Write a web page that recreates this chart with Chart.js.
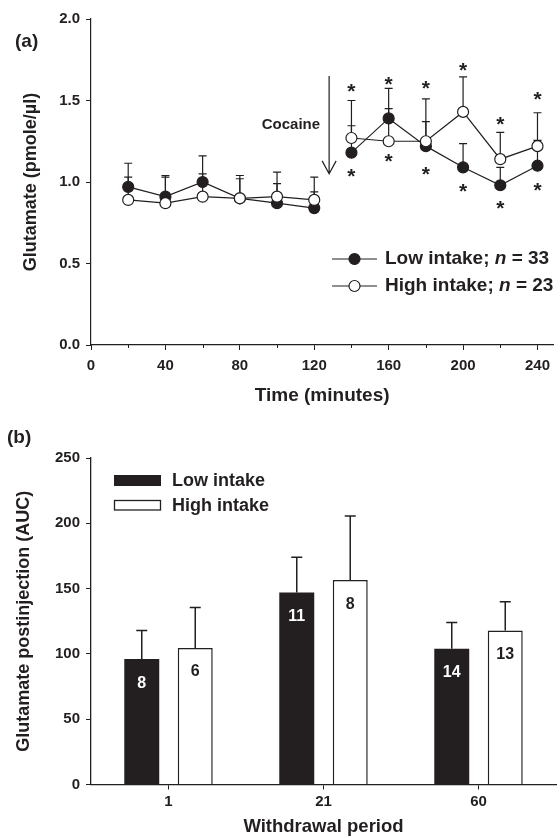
<!DOCTYPE html>
<html>
<head>
<meta charset="utf-8">
<script src="https://cdn.jsdelivr.net/npm/chart.js@4.4.1/dist/chart.umd.min.js"></script>
<style>
  html, body { margin: 0; padding: 0; background: #fff; }
  #wrap { position: relative; width: 560px; height: 838px; }
  canvas { position: absolute; left: 0; }
  #timeChart { top: 0; }
  #aucChart { top: 420px; }
</style>
</head>
<body>
<div id="wrap">
  <canvas id="timeChart" width="560" height="420"></canvas>
  <canvas id="aucChart" width="560" height="418"></canvas>
</div>
<script>
// (a) glutamate over time, cocaine given at ~128 min
const times = [20, 40, 60, 80, 100, 120, 140, 160, 180, 200, 220, 240];
const lowMean = [0.97, 0.91, 1.00, 0.90, 0.87, 0.84, 1.18, 1.39, 1.22, 1.09, 0.98, 1.10];
const lowSem = [0.145, 0.13, 0.16, 0.14, 0.12, 0.10, 0.165, 0.185, 0.15, 0.145, 0.11, 0.155];
const highMean = [0.89, 0.87, 0.91, 0.90, 0.91, 0.89, 1.27, 1.25, 1.25, 1.43, 1.14, 1.22];
const highSem = [0.14, 0.16, 0.14, 0.12, 0.15, 0.14, 0.23, 0.20, 0.26, 0.215, 0.165, 0.205];
const timeTicks = [0, 20, 40, 60, 80, 100, 120, 140, 160, 180, 200, 220, 240];
const glutTicks = [0, 0.5, 1.0, 1.5, 2.0];
// significance stars (value level where each star sits)
const starTimes = [140, 160, 180, 200, 220, 240];
const starHigh = [1.59, 1.63, 1.61, 1.72, 1.385, 1.54];
const starLow = [1.07, 1.16, 1.08, 0.975, 0.87, 0.98];
const cocaineTime = 128;
const cocaineFrom = 1.65;
const cocaineTo = 1.05;

// (b) AUC after injection by withdrawal period
const periods = ['1', '21', '60'];
const lowAuc = [96, 147, 104];
const lowAucSem = [22, 27, 20];
const highAuc = [104.5, 156.5, 118];
const highAucSem = [31, 49, 22];
const lowN = [8, 11, 14];
const highN = [6, 8, 13];
const aucTicks = [0, 50, 100, 150, 200, 250];

const ink = '#231f20';
const family = "'Liberation Sans', Arial, sans-serif";
const bold = size => ({ family: family, size: size, weight: 'bold' });

function setTicks(values) {
    return scale => { scale.ticks = values.map(v => ({ value: v })); };
}

//error bars + stars + arrow for panel (a)
const timeExtras = {
    id: 'timeExtras',
    beforeDatasetsDraw(chart) {
        const { ctx, scales: { x, y } } = chart;
        ctx.save();
        ctx.strokeStyle = ink;
        ctx.lineWidth = 1.2;
        chart.data.datasets.forEach(ds => {
            ds.data.forEach((p, i) => {
                const px = x.getPixelForValue(p.x);
                const py = y.getPixelForValue(p.y);
                const top = y.getPixelForValue(p.y + ds.sem[i]);
                ctx.beginPath();
                ctx.moveTo(px, py);
                ctx.lineTo(px, top);
                ctx.moveTo(px - 4, top);
                ctx.lineTo(px + 4, top);
                ctx.stroke();
            });
        });
        ctx.restore();
    },
    afterDraw(chart) {
        const { ctx, scales: { x, y } } = chart;
        ctx.save();
        ctx.fillStyle = ink;
        ctx.strokeStyle = ink;

        // minor ticks on time axis
        ctx.lineWidth = 1;
        timeTicks.filter(v => v % 40 !== 0).forEach(v => {
            const px = Math.round(x.getPixelForValue(v)) + 0.5;
            ctx.beginPath();
            ctx.moveTo(px, y.bottom);
            ctx.lineTo(px, y.bottom + 3);
            ctx.stroke();
        });

        ctx.font = 'bold 21px ' + family;
        ctx.textAlign = 'center';
        ctx.textBaseline = 'alphabetic';
        starTimes.forEach((t, i) => {
            const px = x.getPixelForValue(t);
            ctx.fillText('*', px, y.getPixelForValue(starHigh[i]) + 12);
            ctx.fillText('*', px, y.getPixelForValue(starLow[i]) + 12);
        });

        // cocaine arrow
        const ax = x.getPixelForValue(cocaineTime);
        const a0 = y.getPixelForValue(cocaineFrom);
        const a1 = y.getPixelForValue(cocaineTo);
        ctx.lineWidth = 1.2;
        ctx.beginPath();
        ctx.moveTo(ax, a0);
        ctx.lineTo(ax, a1);
        ctx.moveTo(ax - 7, a1 - 13);
        ctx.lineTo(ax, a1);
        ctx.lineTo(ax + 7, a1 - 13);
        ctx.stroke();
        ctx.font = 'bold 15px ' + family;
        ctx.textAlign = 'right';
        ctx.textBaseline = 'middle';
        ctx.fillText('Cocaine', ax - 9, (a0 + a1) / 2);

        // legend
        const rows = [[259, chart.data.datasets[0], 'Low intake; ', '33'], [286, chart.data.datasets[1], 'High intake; ', '23']];
        rows.forEach(([ry, ds, txt, n]) => {
            ctx.lineWidth = 1.2;
            ctx.beginPath();
            ctx.moveTo(332, ry);
            ctx.lineTo(377, ry);
            ctx.stroke();
            ctx.beginPath();
            ctx.arc(354.5, ry, 5.5, 0, Math.PI * 2);
            ctx.fillStyle = ds.backgroundColor;
            ctx.fill();
            ctx.stroke();
            ctx.fillStyle = ink;
            ctx.textAlign = 'left';
            ctx.font = 'bold 19px ' + family;
            let tx = 385;
            ctx.fillText(txt, tx, ry);
            tx += ctx.measureText(txt).width;
            ctx.font = 'italic bold 19px ' + family;
            ctx.fillText('n', tx, ry);
            tx += ctx.measureText('n').width;
            ctx.font = 'bold 19px ' + family;
            ctx.fillText(' = ' + n, tx, ry);
        });

        ctx.font = 'bold 19px ' + family;
        ctx.fillText('(a)', 15, 42);
        ctx.restore();
    }
};

const noGap = ctx => ctx.p0DataIndex === 5 ? 'rgba(0,0,0,0)' : ink;

new Chart(document.getElementById('timeChart'), {
    type: 'line',
    data: {
        datasets: [{
            label: 'Low intake',
            data: times.map((t, i) => ({ x: t, y: lowMean[i] })),
            sem: lowSem,
            borderColor: ink,
            backgroundColor: ink,
            borderWidth: 1.2,
            pointRadius: 5.5,
            pointBorderWidth: 1.2,
            segment: { borderColor: noGap },
            order: 2
        }, {
            label: 'High intake',
            data: times.map((t, i) => ({ x: t, y: highMean[i] })),
            sem: highSem,
            borderColor: ink,
            backgroundColor: '#fff',
            borderWidth: 1.2,
            pointRadius: 5.5,
            pointBorderWidth: 1.2,
            segment: { borderColor: noGap },
            order: 1
        }]
    },
    options: {
        responsive: false,
        animation: false,
        layout: { padding: { top: 19, right: 3, left: 0, bottom: 0 } },
        plugins: { legend: { display: false }, tooltip: { enabled: false } },
        scales: {
            x: {
                type: 'linear',
                min: 0,
                max: 248.5,
                afterFit: s => { s.height = 75; },
                afterBuildTicks: setTicks(timeTicks),
                grid: {
                    drawOnChartArea: false,
                    tickLength: 5,
                    color: ink,
                    tickColor: c => (c.tick && c.tick.value % 40 !== 0) ? 'rgba(0,0,0,0)' : ink
                },
                border: { color: ink, width: 1.2 },
                ticks: {
                    callback: v => v % 40 === 0 ? String(v) : '',
                    font: bold(15), color: ink, padding: 7, maxRotation: 0, autoSkip: false
                },
                title: {
                    display: true, text: 'Time (minutes)', font: bold(19), color: ink,
                    padding: { top: 0, bottom: 13 }
                }
            },
            y: {
                min: 0,
                max: 2,
                afterFit: s => { s.width = 91; },
                afterBuildTicks: setTicks(glutTicks),
                grid: { drawOnChartArea: false, tickLength: 5, color: ink },
                border: { color: ink, width: 1.2 },
                ticks: { callback: v => v.toFixed(1), font: bold(15), color: ink, padding: 6 },
                title: {
                    display: true, text: 'Glutamate (pmole/µl)', font: bold(18), color: ink,
                    padding: { top: 20, bottom: 0 }
                }
            }
        }
    },
    plugins: [timeExtras]
});

//error bars, n labels and legend for panel (b)
const aucExtras = {
    id: 'aucExtras',
    afterDatasetsDraw(chart) {
        const { ctx, scales: { y } } = chart;
        ctx.save();
        ctx.strokeStyle = ink;
        ctx.lineWidth = 1.5;
        chart.data.datasets.forEach((ds, di) => {
            const meta = chart.getDatasetMeta(di);
            meta.data.forEach((bar, i) => {
                const top = y.getPixelForValue(ds.data[i] + ds.sem[i]);
                ctx.beginPath();
                ctx.moveTo(bar.x, bar.y);
                ctx.lineTo(bar.x, top);
                ctx.moveTo(bar.x - 5.5, top);
                ctx.lineTo(bar.x + 5.5, top);
                ctx.stroke();
                ctx.font = 'bold 16px ' + family;
                ctx.textAlign = 'center';
                ctx.textBaseline = 'middle';
                ctx.fillStyle = di === 0 ? '#fff' : ink;
                ctx.fillText(String(ds.n[i]), bar.x, bar.y + 24);
            });
        });
        ctx.restore();
    },
    afterDraw(chart) {
        const { ctx } = chart;
        ctx.save();
        ctx.fillStyle = ink;
        ctx.fillRect(114, 55, 47, 11);
        ctx.fillStyle = '#fff';
        ctx.strokeStyle = ink;
        ctx.lineWidth = 1.3;
        ctx.fillRect(114.5, 80.5, 46, 9.5);
        ctx.strokeRect(114.5, 80.5, 46, 9.5);
        ctx.fillStyle = ink;
        ctx.font = 'bold 18px ' + family;
        ctx.textAlign = 'left';
        ctx.textBaseline = 'middle';
        ctx.fillText(chart.data.datasets[0].label, 172, 61);
        ctx.fillText(chart.data.datasets[1].label, 172, 86);
        ctx.font = 'bold 19px ' + family;
        ctx.fillText('(b)', 7, 18);
        ctx.restore();
    }
};

new Chart(document.getElementById('aucChart'), {
    type: 'bar',
    data: {
        labels: periods,
        datasets: [{
            label: 'Low intake',
            data: lowAuc,
            sem: lowAucSem,
            n: lowN,
            backgroundColor: ink,
            borderColor: ink,
            borderWidth: 0
        }, {
            label: 'High intake',
            data: highAuc,
            sem: highAucSem,
            n: highN,
            backgroundColor: '#fff',
            borderColor: ink,
            borderWidth: 1.5
        }]
    },
    options: {
        responsive: false,
        animation: false,
        categoryPercentage: 0.69,
        barPercentage: 0.654,
        layout: { padding: { top: 38, right: 4, left: 0, bottom: 0 } },
        plugins: { legend: { display: false }, tooltip: { enabled: false } },
        scales: {
            x: {
                afterFit: s => { s.height = 53.5; },
                grid: { offset: false, drawOnChartArea: false, tickLength: 5, color: ink },
                border: { color: ink, width: 1.3 },
                ticks: { font: bold(15), color: ink, padding: 3, maxRotation: 0 },
                title: {
                    display: true, text: 'Withdrawal period', font: bold(18.5), color: ink,
                    padding: { top: 0, bottom: 0 }
                }
            },
            y: {
                min: 0,
                max: 250,
                afterFit: s => { s.width = 91; },
                afterBuildTicks: setTicks(aucTicks),
                grid: { drawOnChartArea: false, tickLength: 5, color: ink },
                border: { color: ink, width: 1.3 },
                ticks: { font: bold(15), color: ink, padding: 6 },
                title: {
                    display: true, text: 'Glutamate postinjection (AUC)', font: bold(18), color: ink,
                    padding: { top: 13, bottom: 0 }
                }
            }
        }
    },
    plugins: [aucExtras]
});
</script>
</body>
</html>
